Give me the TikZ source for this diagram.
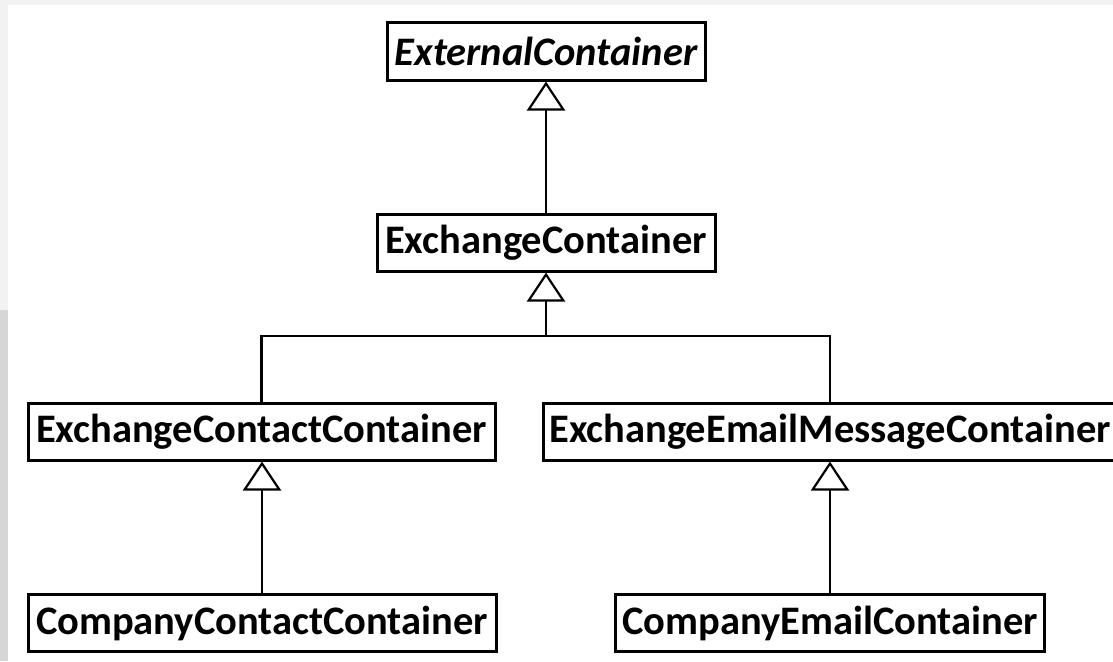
\documentclass[tikz,border=0pt]{standalone}
\usepackage{fontspec}
\setmainfont{Carlito}
\usetikzlibrary{calc,positioning,arrows.meta}

\begin{document}
\begin{tikzpicture}[x=1pt,y=-1pt]

    \tikzstyle{cls}=[draw,line width=3pt,fill=white,inner sep=0pt,minimum height=57pt,font=\fontsize{40.5}{42}\selectfont\bfseries]
    \tikzstyle{inherit}=[line width=2.2pt,-{Triangle[open,width=38pt,length=29pt,line width=2.2pt]}]
    \tikzstyle{link}=[line width=2.2pt]

    % page and backdrop
    \useasboundingbox (0,0) rectangle (1113,661);
    \fill [gray!10] (0,0) rectangle (1113,661);
    \fill [gray!32] (0,310) rectangle (8,661);
    \fill [white] (8,5) rectangle (1113,661);

      \coordinate (origo) at (546,0);

    \node (ext_cont) [cls,minimum width=318pt,font=\fontsize{40.5}{42}\selectfont\bfseries\itshape] at ($(origo) + (0,51.5)$) {ExternalContainer};
    \node (exch_cont) [cls,minimum width=338pt] at ($(origo) + (0,242.5)$) {ExchangeContainer};

    \node (exch_contact) [cls,minimum width=467pt] at (261.5,431.5) {ExchangeContactContainer};
    \node (exch_email) [cls,minimum width=574pt] at (830,431.5) {ExchangeEmailMessageContainer};

    \node (comp_contact) [cls,minimum width=468pt] at (262,623) {CompanyContactContainer};
    \node (comp_email) [cls,minimum width=429pt] at (830,623) {CompanyEmailContainer};

\coordinate (split) at (exch_cont.south |- 0,336);

\draw [inherit] (exch_cont.north) -- (ext_cont.south);

\draw [link] (exch_contact.north) |- (split) -| (exch_email.north);
\draw [inherit] (split) -- (exch_cont.south);

\draw [inherit] (comp_contact.north) -- (comp_contact.north |- exch_contact.south);
\draw [inherit] (comp_email.north) -- (exch_email.south);

\end{tikzpicture}
\end{document}
